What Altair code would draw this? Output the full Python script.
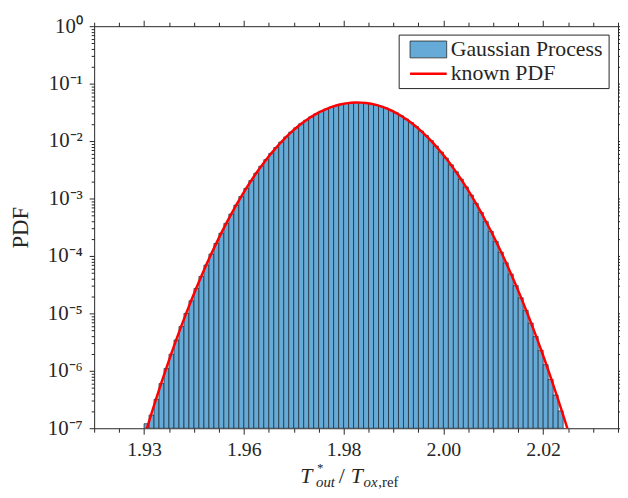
import altair as alt
import pandas as pd

# ---------------- data ----------------
BIN_START = 1.940
BIN_WIDTH = 0.001
gp_pdf = [
    1.2e-7, 1.7e-7, 3.2e-7, 6.0e-7, 1.10e-6, 1.95e-6, 3.45e-6, 5.9e-6, 1.00e-5, 1.66e-5,
    2.72e-5, 4.40e-5, 6.95e-5, 1.08e-4, 1.65e-4, 2.49e-4, 3.68e-4, 5.37e-4, 7.68e-4, 1.08e-3,
    1.50e-3, 2.05e-3, 2.76e-3, 3.65e-3, 4.75e-3, 6.10e-3, 7.72e-3, 9.60e-3, 1.18e-2, 1.43e-2,
    1.70e-2, 2.00e-2, 2.31e-2, 2.64e-2, 2.97e-2, 3.30e-2, 3.61e-2, 3.90e-2, 4.15e-2, 4.37e-2,
    4.53e-2, 4.64e-2, 4.69e-2, 4.67e-2, 4.59e-2, 4.46e-2, 4.26e-2, 4.02e-2, 3.74e-2, 3.43e-2,
    3.10e-2, 2.76e-2, 2.42e-2, 2.10e-2, 1.79e-2, 1.50e-2, 1.245e-2, 1.016e-2, 8.15e-3, 6.45e-3,
    5.03e-3, 3.86e-3, 2.92e-3, 2.17e-3, 1.59e-3, 1.15e-3, 8.2e-4, 5.75e-4, 3.95e-4, 2.68e-4,
    1.78e-4, 1.17e-4, 7.6e-5, 4.85e-5, 3.04e-5, 1.87e-5, 1.13e-5, 6.8e-6, 3.95e-6, 2.28e-6,
    1.28e-6, 7.1e-7, 3.8e-7, 2.0e-7,
]

pdf_x = [1.9400] + [round(1.9405 + 0.001 * i, 4) for i in range(84)] + [2.0245, 2.0255]
pdf_y = [
    6.9e-8,
    9.5e-8, 1.82e-7, 3.42e-7, 6.31e-7, 1.14e-6, 2.03e-6, 3.56e-6, 6.11e-6, 1.03e-5, 1.71e-5,
    2.79e-5, 4.49e-5, 7.08e-5, 1.10e-4, 1.67e-4, 2.52e-4, 3.72e-4, 5.41e-4, 7.73e-4, 1.09e-3,
    1.51e-3, 2.06e-3, 2.77e-3, 3.66e-3, 4.76e-3, 6.11e-3, 7.73e-3, 9.62e-3, 1.18e-2, 1.43e-2,
    1.70e-2, 2.00e-2, 2.31e-2, 2.64e-2, 2.97e-2, 3.30e-2, 3.61e-2, 3.90e-2, 4.15e-2, 4.37e-2,
    4.53e-2, 4.64e-2, 4.69e-2,
    4.67e-2, 4.59e-2, 4.46e-2, 4.26e-2, 4.02e-2, 3.74e-2, 3.43e-2, 3.10e-2, 2.76e-2, 2.42e-2,
    2.10e-2, 1.79e-2, 1.50e-2, 1.245e-2, 1.016e-2, 8.17e-3, 6.47e-3, 5.05e-3, 3.88e-3, 2.94e-3,
    2.19e-3, 1.61e-3, 1.165e-3, 8.31e-4, 5.83e-4, 4.02e-4, 2.74e-4, 1.83e-4, 1.21e-4, 7.83e-5,
    5.00e-5, 3.14e-5, 1.94e-5, 1.18e-5, 7.08e-6, 4.17e-6, 2.42e-6, 1.38e-6, 7.73e-7, 4.26e-7,
    2.31e-7,
    1.24e-7, 6.5e-8,
]

x_major = [1.94, 1.96, 1.98, 2.00, 2.02]
x_major_labels = ["1.93", "1.96", "1.98", "2.00", "2.02"]
x_minor = [1.930, 1.935, 1.945, 1.950, 1.955, 1.965, 1.970, 1.975, 1.985, 1.990,
           1.995, 2.005, 2.010, 2.015, 2.025, 2.030, 2.035]
y_major = [1e-7, 1e-6, 1e-5, 1e-4, 1e-3, 1e-2, 1e-1, 1.0]
y_major_labels = ["10⁻⁷", "10⁻⁶", "10⁻⁵", "10⁻⁴", "10⁻³", "10⁻²", "10⁻¹", "10⁰"]
y_minor = [m * d for d in [1e-7, 1e-6, 1e-5, 1e-4, 1e-3, 1e-2, 1e-1] for m in range(2, 10)]

legend_labels = ["Gaussian Process", "known PDF"]

# ---------------- tables ----------------
hist_df = pd.DataFrame({
    "left": [round(BIN_START + i * BIN_WIDTH, 4) for i in range(len(gp_pdf))],
    "right": [round(BIN_START + (i + 1) * BIN_WIDTH, 4) for i in range(len(gp_pdf))],
    "pdf": gp_pdf,
})
curve_df = pd.DataFrame({"x": pdf_x, "pdf": pdf_y})

# ---------------- style ----------------
AX = "#262626"
FONT = "Liberation Serif"
BLUE = "#66aad7"
W, H = 529, 406

x_expr = ""
for v, t in zip(x_major, x_major_labels):
    x_expr += f"abs(datum.value - {v}) < 1e-6 ? '{t}' : "
x_expr += "''"
y_expr = ""
for v, t in zip(y_major, y_major_labels):
    y_expr += f"abs(datum.value / {v} - 1) < 1e-6 ? '{t}' : "
y_expr += "''"

xs = alt.Scale(domain=[1.93, 2.035], nice=False, zero=False)
ys = alt.Scale(type="log", domain=[1e-7, 1.0], nice=False)


def ax(**kw):
    base = dict(title=None, grid=False, labels=False, domain=False, ticks=True,
                tickColor=AX, tickWidth=1, domainColor=AX, domainWidth=1,
                labelOverlap=False)
    base.update(kw)
    return alt.Axis(**base)


bars = alt.Chart(hist_df).mark_bar(
    color=BLUE, stroke="#1c2630", strokeWidth=0.7, clip=True
).encode(
    x=alt.X("left:Q", scale=xs, axis=ax(
        orient="bottom", values=x_major, tickSize=6, labels=True, labelExpr=x_expr,
        labelFont=FONT, labelFontSize=20, labelColor=AX, labelPadding=6, domain=True)),
    x2="right:Q",
    y=alt.Y("pdf:Q", scale=ys, axis=ax(
        orient="left", values=y_major, tickSize=5, labels=True, labelExpr=y_expr,
        labelFont=FONT, labelFontSize=21, labelColor=AX, labelPadding=7, domain=True,
        title="PDF", titleFont=FONT, titleFontSize=23, titleFontWeight="normal",
        titleColor=AX, titlePadding=15)),
    y2=alt.datum(1e-7),
)

curve = alt.Chart(curve_df).mark_line(color="#ff0000", strokeWidth=2.5, clip=True).encode(
    x=alt.X("x:Q", scale=xs, axis=ax(orient="bottom", values=x_minor, tickSize=4)),
    y=alt.Y("pdf:Q", scale=ys, axis=ax(orient="left", values=y_minor, tickSize=3)),
)

frame_major = alt.Chart(curve_df).mark_point(opacity=0, clip=True).encode(
    x=alt.X("x:Q", scale=xs, axis=ax(orient="top", values=x_major, tickSize=6, domain=True)),
    y=alt.Y("pdf:Q", scale=ys, axis=ax(orient="right", values=y_major, tickSize=5, domain=True)),
)
frame_minor = alt.Chart(curve_df).mark_point(opacity=0, clip=True).encode(
    x=alt.X("x:Q", scale=xs, axis=ax(orient="top", values=x_minor, tickSize=4)),
    y=alt.Y("pdf:Q", scale=ys, axis=ax(orient="right", values=y_minor, tickSize=3)),
)

one = alt.Data(values=[{}])


def txt(s, x, y, size, italic=False, **kw):
    return alt.Chart(one).mark_text(
        text=s, font=FONT, fontSize=size, fontStyle="italic" if italic else "normal",
        align="left", baseline="alphabetic", color=AX, **kw
    ).encode(x=alt.value(x), y=alt.value(y))


# x-axis title  T*_out / T_ox,ref
title_parts = [
    txt("T", 208, 461, 22, True),
    txt("*", 225, 450, 13),
    txt("out", 224, 465, 15, True),
    txt("/", 247, 461, 22),
    txt("T", 259, 461, 22, True),
    txt("ox", 272, 465, 15, True),
    txt(",ref", 287, 465, 15),
]

# legend
leg_box = alt.Chart(one).mark_rect(fill="white", stroke=AX, strokeWidth=1).encode(
    x=alt.value(308), x2=alt.value(520), y=alt.value(9), y2=alt.value(63))
leg_patch = alt.Chart(one).mark_rect(fill=BLUE, stroke=AX, strokeWidth=0.8).encode(
    x=alt.value(319), x2=alt.value(356), y=alt.value(15), y2=alt.value(32))
leg_line = alt.Chart(one).mark_rule(color="#ff0000", strokeWidth=2.5).encode(
    x=alt.value(319), x2=alt.value(356), y=alt.value(48))
leg_t1 = alt.Chart(one).mark_text(
    text=legend_labels[0], font=FONT, fontSize=22, align="left", baseline="middle", color=AX
).encode(x=alt.value(360), y=alt.value(23))
leg_t2 = alt.Chart(one).mark_text(
    text=legend_labels[1], font=FONT, fontSize=22, align="left", baseline="middle", color=AX
).encode(x=alt.value(360), y=alt.value(47))

chart = alt.layer(
    bars, curve, frame_major, frame_minor,
    *title_parts, leg_box, leg_patch, leg_line, leg_t1, leg_t2
).resolve_axis(
    x="independent", y="independent"
).properties(
    width=W, height=H,
    autosize=alt.AutoSizeParams(type="none"),
    padding={"left": 87, "top": 16, "right": 2, "bottom": 60},
    background="white",
).configure_view(stroke=None)

chart.save("out.html", embed_options={"renderer": "svg", "actions": False})
